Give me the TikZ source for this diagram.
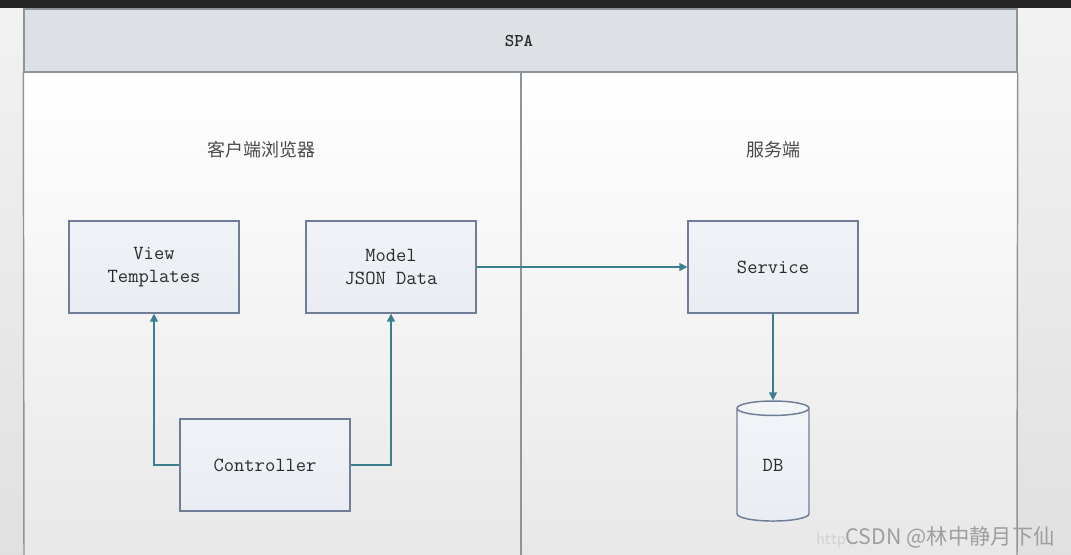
\documentclass[tikz,border=0pt]{standalone}
\usepackage{fontspec}
\newfontfamily\cjk{Noto Sans CJK SC}
\usetikzlibrary{arrows.meta,shapes.geometric}
\definecolor{boxline}{HTML}{6F7E96}
\definecolor{boxfill}{HTML}{E9EDF3}
\definecolor{arrowc}{HTML}{3C7E8E}
\definecolor{headfill}{HTML}{DDE1E5}
\definecolor{frameline}{HTML}{8E949C}
\definecolor{txt}{HTML}{2A2A2A}
\tikzset{
  box/.style={draw=boxline, line width=1.1pt, top color=boxfill!70!white, bottom color=boxfill,
    minimum width=127.5pt, minimum height=69pt, inner sep=0pt, align=center,
    font=\ttfamily\fontsize{15}{17}\selectfont, text=txt},
  conn/.style={draw=arrowc, line width=1.1pt, -{Triangle[length=6pt,width=6pt]}},
  frame/.style={draw=frameline, line width=1.1pt},
  title/.style={font=\cjk\fontsize{13.5}{16}\selectfont, text=txt!85!white}
}
\begin{document}
\begin{tikzpicture}[x=0.75pt,y=-0.75pt]
\useasboundingbox (0,0) rectangle (1071,555);
% background
\shade[top color=white!95!black, bottom color=white!88!black] (0,0) rectangle (1071,555);
\fill[white!15!black] (0,0) rectangle (1071,8);
\shade[top color=white, bottom color=white!91!black] (24,72) rectangle (1017,555);
% header
\node[draw=frameline, line width=1.1pt, fill=headfill, minimum width=744.75pt, minimum height=47.25pt,
  inner sep=0pt] (spa) at (520.5,40.5) {};
\node[font=\ttfamily\bfseries\fontsize{13.5}{15}\selectfont, text=txt] (spatxt) at (519,41) {SPA};
\coordinate (lbot) at (24,555);
\coordinate (rbot) at (1017,555);
\coordinate (mtop) at (521,72);
\coordinate (mbot) at (521,555);
\draw[frame] (spa.south west) -- (lbot);
\draw[frame] (spa.south east) -- (rbot);
\draw[frame] (mtop) -- (mbot);
% titles
\node[title] (client) at (261,150) {客户端浏览器};
\node[title] (server) at (773.5,150) {服务端};
% boxes
\node[box] (view) at (154,267) {View\\Templates};
\node[box] (model) at (391,267) {Model\\JSON Data};
\node[box] (service) at (773,267) {Service};
\node[box] (ctrl) at (265,465) {Controller};
\node[cylinder, shape border rotate=90, draw=boxline, line width=1.1pt, top color=boxfill!60!white, bottom color=boxfill,
  minimum width=54pt, minimum height=90pt, aspect=0.7, inner sep=0pt,
  font=\ttfamily\fontsize{15}{17}\selectfont, text=txt] (db) at (773,465) {DB};
% connectors
\draw[conn] (model.east) -- (service.west);
\draw[conn] (service.south) -- (db.top);
\draw[conn] (ctrl.west) -| (view.south);
\draw[conn] (ctrl.east) -| (model.south);
% watermark
\node[font=\cjk\fontsize{16}{18}\selectfont, text=black!38, anchor=east, inner sep=0pt] (wm) at (1055,537)
  {{\sffamily\fontsize{13}{15}\selectfont\color{black!18}http}CSDN @林中静月下仙};
\end{tikzpicture}
\end{document}
